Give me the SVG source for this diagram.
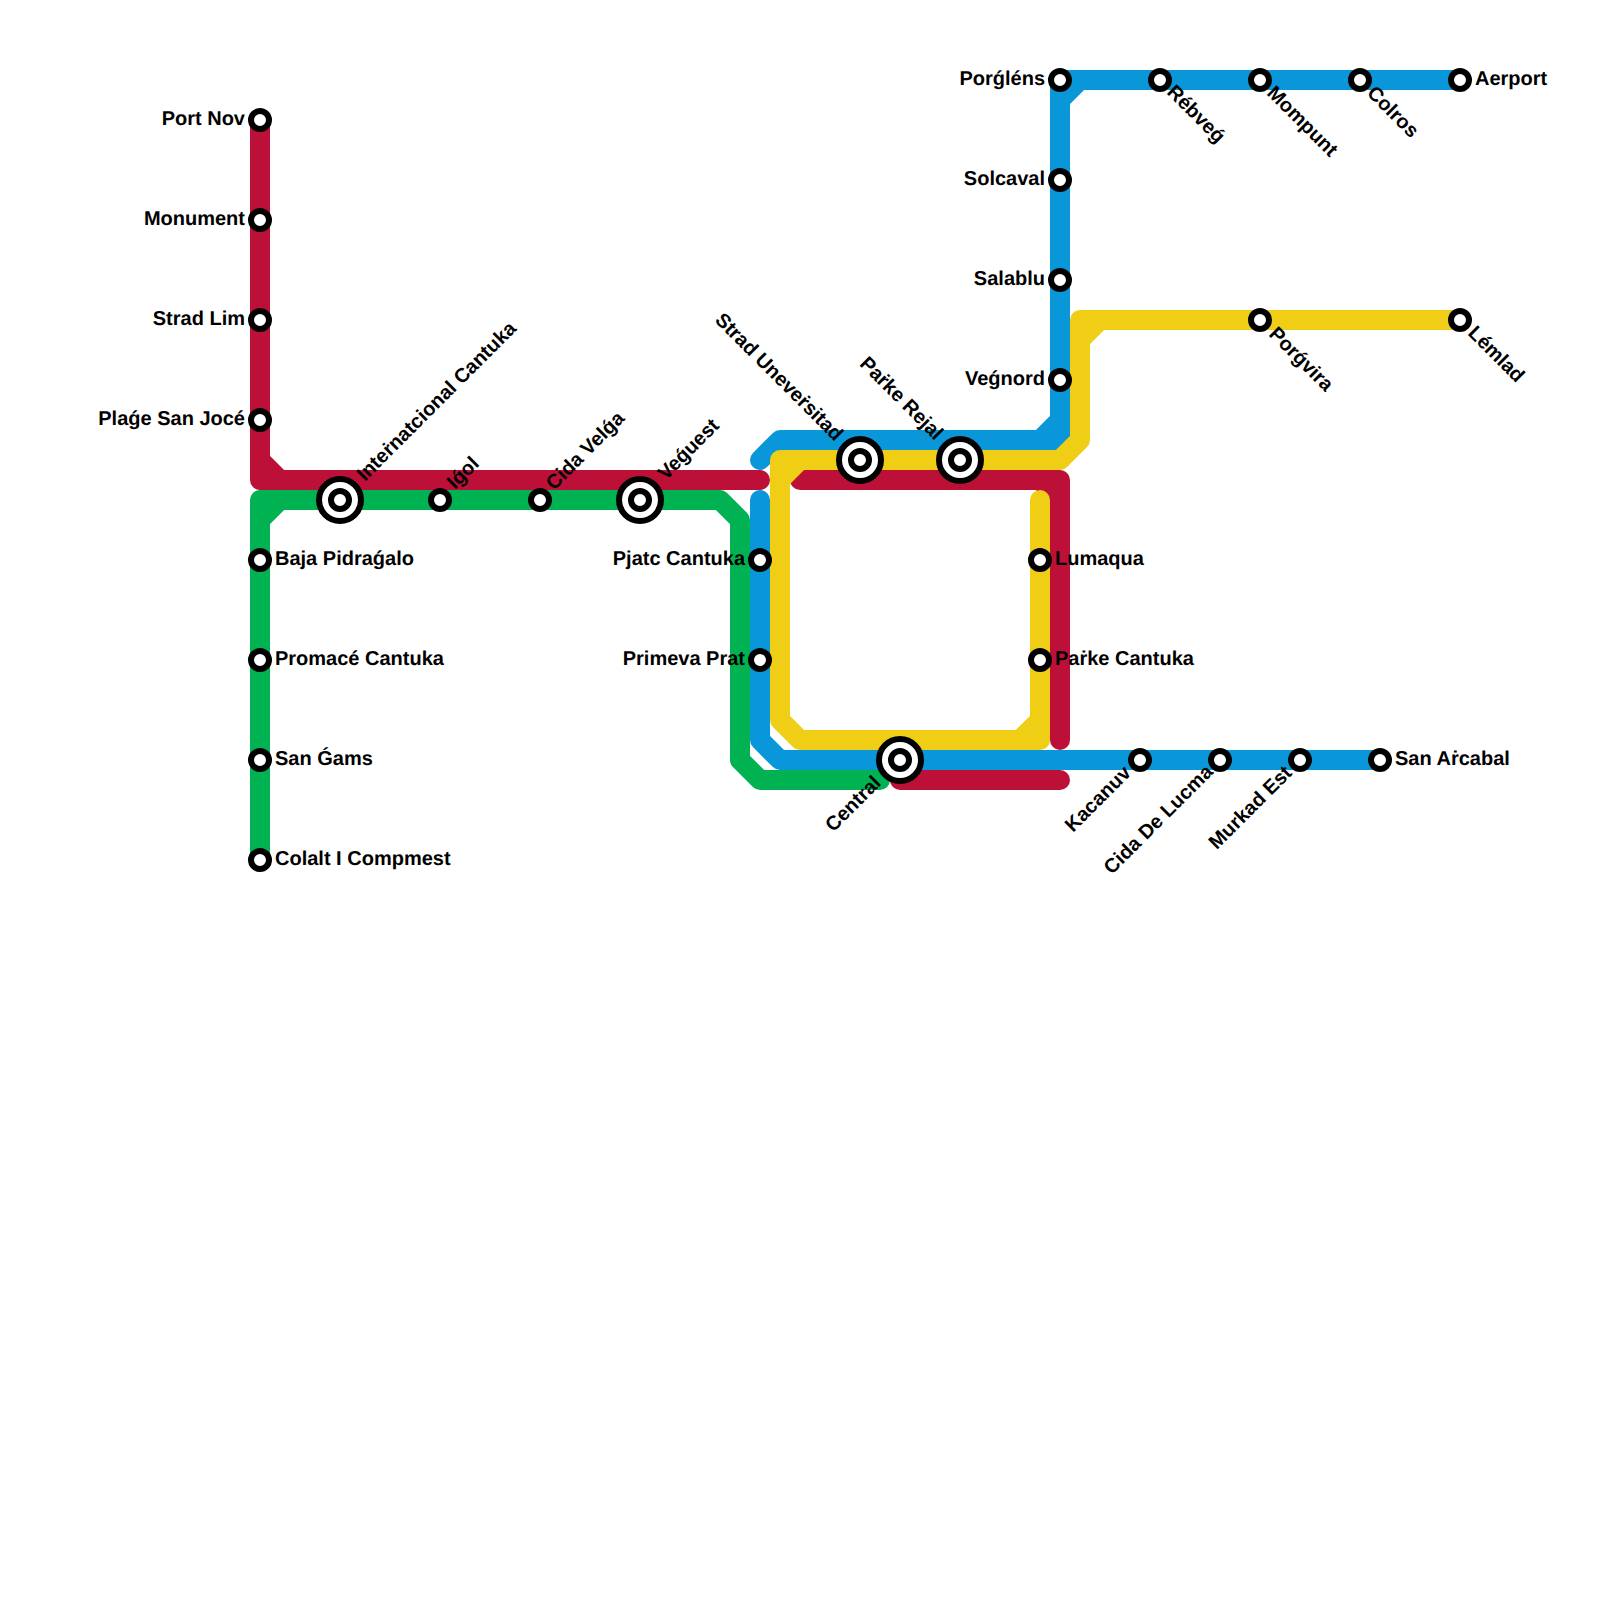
<svg xmlns="http://www.w3.org/2000/svg" width="1600" height="1600" viewBox="0 0 1600 1600">
<style>
.l{fill:none;stroke-width:20;stroke-linecap:round;stroke-linejoin:round}
.r{stroke:#bd1038}.g{stroke:#00b251}.b{stroke:#0a97d9}.y{stroke:#f0ce15}
.s{fill:#fff;stroke:#000;stroke-width:6}
.o{fill:#fff;stroke:#000;stroke-width:6}
text{font-family:"Liberation Sans",Arial,sans-serif;font-size:20px;font-weight:bold;fill:#000;text-rendering:geometricPrecision}
.e{text-anchor:end}
</style>
<rect width="1600" height="1600" fill="#fff"/>
<g id="connectors">
<path class="l r" d="M260,120V480H760M260,460L280,480"/>
<path class="l r" d="M800,480H1060V740M1040,480L1060,500"/>
<path class="l r" d="M900,780H1060"/>
<path class="l g" d="M260,860V500H720L740,520V760L760,780H880M260,520L280,500"/>
<path class="l b" d="M1460,80H1060V440H780L760,460M1060,100L1080,80M1060,420L1040,440"/>
<path class="l b" d="M760,500V740L780,760H1380"/>
<path class="l y" d="M1460,320H1080V440L1060,460H780V720L800,740H1040V500M1080,340L1100,320M780,480L800,460M1020,740L1040,720"/>
</g>
<g id="n-portnov"><circle class="s" cx="260" cy="120" r="9"/><text class="e" x="245" y="125">Port Nov</text></g>
<g id="n-monument"><circle class="s" cx="260" cy="220" r="9"/><text class="e" x="245" y="225">Monument</text></g>
<g id="n-stradlim"><circle class="s" cx="260" cy="320" r="9"/><text class="e" x="245" y="325">Strad Lim</text></g>
<g id="n-plage"><circle class="s" cx="260" cy="420" r="9"/><text class="e" x="245" y="425">Plaǵe San Jocé</text></g>
<g id="n-baja"><circle class="s" cx="260" cy="560" r="9"/><text x="275" y="565">Baja Pidraǵalo</text></g>
<g id="n-promace"><circle class="s" cx="260" cy="660" r="9"/><text x="275" y="665">Promacé Cantuka</text></g>
<g id="n-sangams"><circle class="s" cx="260" cy="760" r="9"/><text x="275" y="765">San Ǵams</text></g>
<g id="n-colalt"><circle class="s" cx="260" cy="860" r="9"/><text x="275" y="865">Colalt I Compmest</text></g>
<g id="n-internat"><circle class="o" cx="340" cy="500" r="21"/><circle class="s" cx="340" cy="500" r="9"/><text transform="translate(365,482) rotate(-45)">Inteṙnatcional Cantuka</text></g>
<g id="n-igol"><circle class="s" cx="440" cy="500" r="9"/><text transform="translate(455,490) rotate(-45)">Iǵol</text></g>
<g id="n-cidavelga"><circle class="s" cx="540" cy="500" r="9"/><text transform="translate(554,491) rotate(-45)">Cida Velǵa</text></g>
<g id="n-veguest"><circle class="o" cx="640" cy="500" r="21"/><circle class="s" cx="640" cy="500" r="9"/><text transform="translate(666,481) rotate(-45)">Veǵuest</text></g>
<g id="n-pjatc"><circle class="s" cx="760" cy="560" r="9"/><text class="e" x="745" y="565">Pjatc Cantuka</text></g>
<g id="n-primeva"><circle class="s" cx="760" cy="660" r="9"/><text class="e" x="745" y="665">Primeva Prat</text></g>
<g id="n-strad"><circle class="o" cx="860" cy="460" r="21"/><circle class="s" cx="860" cy="460" r="9"/><text class="e" transform="translate(835,442) rotate(45)">Strad Uneveṙsitad</text></g>
<g id="n-parkerejal"><circle class="o" cx="960" cy="460" r="21"/><circle class="s" cx="960" cy="460" r="9"/><text class="e" transform="translate(935,441) rotate(45)">Paṙke Rejal</text></g>
<g id="n-central"><circle class="o" cx="900" cy="760" r="21"/><circle class="s" cx="900" cy="760" r="9"/><text class="e" transform="translate(882,784) rotate(-45)">Central</text></g>
<g id="n-lumaqua"><circle class="s" cx="1040" cy="560" r="9"/><text x="1055" y="565">Lumaqua</text></g>
<g id="n-parkecantuka"><circle class="s" cx="1040" cy="660" r="9"/><text x="1055" y="665">Paṙke Cantuka</text></g>
<g id="n-porglens"><circle class="s" cx="1060" cy="80" r="9"/><text class="e" x="1045" y="85">Porǵléns</text></g>
<g id="n-solcaval"><circle class="s" cx="1060" cy="180" r="9"/><text class="e" x="1045" y="185">Solcaval</text></g>
<g id="n-salablu"><circle class="s" cx="1060" cy="280" r="9"/><text class="e" x="1045" y="285">Salablu</text></g>
<g id="n-vegnord"><circle class="s" cx="1060" cy="380" r="9"/><text class="e" x="1045" y="385">Veǵnord</text></g>
<g id="n-rebveg"><circle class="s" cx="1160" cy="80" r="9"/><text transform="translate(1166,93) rotate(45)">Rébveǵ</text></g>
<g id="n-mompunt"><circle class="s" cx="1260" cy="80" r="9"/><text transform="translate(1266,94) rotate(45)">Mompunt</text></g>
<g id="n-colros"><circle class="s" cx="1360" cy="80" r="9"/><text transform="translate(1366,94) rotate(45)">Colros</text></g>
<g id="n-aerport"><circle class="s" cx="1460" cy="80" r="9"/><text x="1475" y="85">Aerport</text></g>
<g id="n-porgvira"><circle class="s" cx="1260" cy="320" r="9"/><text transform="translate(1268,335) rotate(45)">Porǵvira</text></g>
<g id="n-lemlad"><circle class="s" cx="1460" cy="320" r="9"/><text transform="translate(1467,334) rotate(45)">Lémlad</text></g>
<g id="n-kacanuv"><circle class="s" cx="1140" cy="760" r="9"/><text class="e" transform="translate(1132,774) rotate(-45)">Kacanuv</text></g>
<g id="n-cidadelucma"><circle class="s" cx="1220" cy="760" r="9"/><text class="e" transform="translate(1214,773) rotate(-45)">Cida De Lucma</text></g>
<g id="n-murkad"><circle class="s" cx="1300" cy="760" r="9"/><text class="e" transform="translate(1293,774) rotate(-45)">Murkad Est</text></g>
<g id="n-sanarcabal"><circle class="s" cx="1380" cy="760" r="9"/><text x="1395" y="765">San Aṙcabal</text></g>
</svg>
